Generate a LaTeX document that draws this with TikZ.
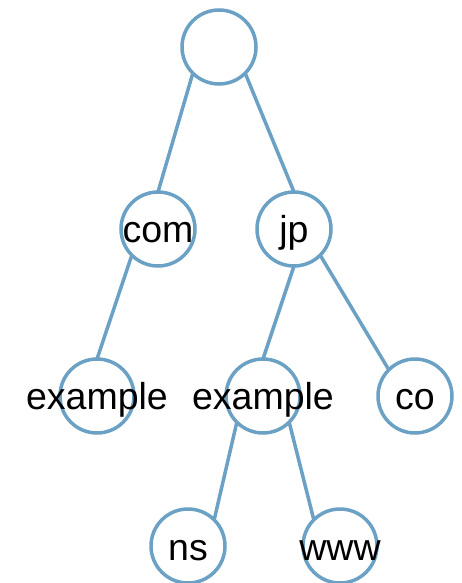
\documentclass[tikz,border=0pt]{standalone}
\usepackage{fontspec}
\setmainfont{Liberation Sans}
\definecolor{treeblue}{RGB}{107,161,196}
\begin{document}
\begin{tikzpicture}[x=1pt,y=-1pt,
  dot/.style={circle, draw=treeblue, fill=white, line width=3.5pt,
    minimum size=74pt, inner sep=0pt, outer sep=0pt},
  lbl/.style={font=\fontsize{37.5}{40}\selectfont, text=black, inner sep=0pt, anchor=base},
  link/.style={draw=treeblue, line width=3.5pt}]
\clip (0,0) rectangle (462,583);
\useasboundingbox (0,0) rectangle (462,583);
% tree nodes
\node[dot] (root) at (219,47) {};
\node[dot] (com)  at (158,229) {};
\node[dot] (jp)   at (294,229) {};
\node[dot] (exa)  at (97,396) {};
\node[dot] (exb)  at (263,396) {};
\node[dot] (co)   at (415,396) {};
\node[dot] (ns)   at (188,546) {};
\node[dot] (www)  at (340,546) {};
% connectors
\draw[link] (root.south west) -- (com.north);
\draw[link] (root.south east) -- (jp.north);
\draw[link] (com.south west) -- (exa.north);
\draw[link] (jp.south) -- (exb.north);
\draw[link] (jp.south east) -- (co.north west);
\draw[link] (exb.south west) -- (ns.north east);
\draw[link] (exb.south east) -- (www.north west);
% labels, baseline set a little below each circle's centre
\node[lbl] at ([yshift=-13.5pt]com.center) {com};
\node[lbl] at ([yshift=-13.5pt]jp.center) {jp};
\node[lbl] at ([yshift=-13.5pt]exa.center) {example};
\node[lbl] at ([yshift=-13.5pt]exb.center) {example};
\node[lbl] at ([yshift=-13.5pt]co.center) {co};
\node[lbl] at ([yshift=-14.5pt]ns.center) {ns};
\node[lbl] at ([yshift=-14.5pt]www.center) {www};
\end{tikzpicture}
\end{document}
